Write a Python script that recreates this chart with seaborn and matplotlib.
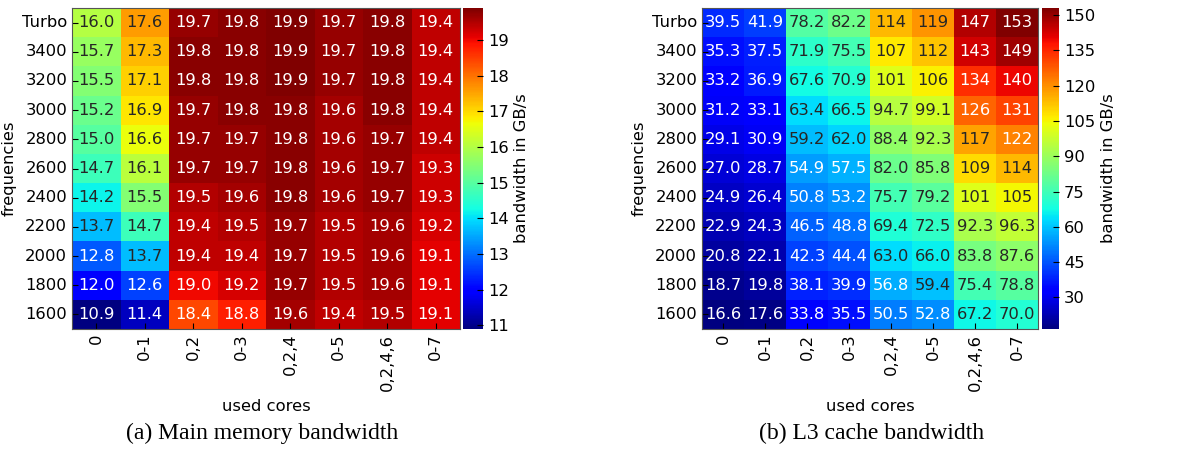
import numpy as np
import pandas as pd
import matplotlib
matplotlib.use("Agg")
import matplotlib.pyplot as plt
import seaborn as sns

# Data
freqs = ["Turbo", "3400", "3200", "3000", "2800", "2600", "2400", "2200", "2000", "1800", "1600"]
cores = ["0", "0-1", "0,2", "0-3", "0,2,4", "0-5", "0,2,4,6", "0-7"]

mem_bw = [
    [16.0, 17.6, 19.7, 19.8, 19.9, 19.7, 19.8, 19.4],
    [15.7, 17.3, 19.8, 19.8, 19.9, 19.7, 19.8, 19.4],
    [15.5, 17.1, 19.8, 19.8, 19.9, 19.7, 19.8, 19.4],
    [15.2, 16.9, 19.7, 19.8, 19.8, 19.6, 19.8, 19.4],
    [15.0, 16.6, 19.7, 19.7, 19.8, 19.6, 19.7, 19.4],
    [14.7, 16.1, 19.7, 19.7, 19.8, 19.6, 19.7, 19.3],
    [14.2, 15.5, 19.5, 19.6, 19.8, 19.6, 19.7, 19.3],
    [13.7, 14.7, 19.4, 19.5, 19.7, 19.5, 19.6, 19.2],
    [12.8, 13.7, 19.4, 19.4, 19.7, 19.5, 19.6, 19.1],
    [12.0, 12.6, 19.0, 19.2, 19.7, 19.5, 19.6, 19.1],
    [10.9, 11.4, 18.4, 18.8, 19.6, 19.4, 19.5, 19.1],
]

l3_bw = [
    [39.5, 41.9, 78.2, 82.2, 114, 119, 147, 153],
    [35.3, 37.5, 71.9, 75.5, 107, 112, 143, 149],
    [33.2, 36.9, 67.6, 70.9, 101, 106, 134, 140],
    [31.2, 33.1, 63.4, 66.5, 94.7, 99.1, 126, 131],
    [29.1, 30.9, 59.2, 62.0, 88.4, 92.3, 117, 122],
    [27.0, 28.7, 54.9, 57.5, 82.0, 85.8, 109, 114],
    [24.9, 26.4, 50.8, 53.2, 75.7, 79.2, 101, 105],
    [22.9, 24.3, 46.5, 48.8, 69.4, 72.5, 92.3, 96.3],
    [20.8, 22.1, 42.3, 44.4, 63.0, 66.0, 83.8, 87.6],
    [18.7, 19.8, 38.1, 39.9, 56.8, 59.4, 75.4, 78.8],
    [16.6, 17.6, 33.8, 35.5, 50.5, 52.8, 67.2, 70.0],
]


def labels(values):
    # 3 significant digits like the original
    return np.array([[f"{v:.0f}" if v >= 100 else f"{v:.1f}" for v in row] for row in values])


plt.rcParams["font.family"] = ["DejaVu Sans"]
W, H = 1203, 450
fig = plt.figure(figsize=(W / 100, H / 100), dpi=100)
fs = 11.8


def box(x0, y0, x1, y1):
    return [x0 / W, 1 - y1 / H, (x1 - x0) / W, (y1 - y0) / H]


panels = [
    (mem_bw, box(72, 8, 460, 329), box(463, 8, 483, 329), list(range(11, 20)), "(a) Main memory bandwidth", 262),
    (l3_bw, box(702, 8, 1038, 329), box(1042, 8, 1059, 329), list(range(30, 151, 15)), "(b) L3 cache bandwidth", 872),
]

for values, axpos, cbpos, cticks, caption, cx in panels:
    ax = fig.add_axes(axpos)
    cax = fig.add_axes(cbpos)
    df = pd.DataFrame(values, index=freqs, columns=cores)
    sns.heatmap(df, ax=ax, cbar_ax=cax, cmap="jet", annot=labels(values), fmt="",
                annot_kws={"fontsize": fs})
    ax.set_xlabel("used cores", fontsize=fs, labelpad=6)
    ax.set_ylabel("frequencies", fontsize=fs)
    ax.tick_params(axis="both", direction="in", length=4, labelsize=fs, colors="black")
    ax.tick_params(axis="y", labelrotation=0)
    ax.tick_params(axis="x", labelrotation=90)
    for s in ax.spines.values():
        s.set_visible(True)
        s.set_color("#555555")
    cb = ax.collections[0].colorbar
    cb.set_ticks(cticks)
    cb.ax.tick_params(labelsize=fs, direction="in", length=4)
    cb.set_label("bandwidth in GB/s", fontsize=fs)
    cb.outline.set_visible(True)
    cb.outline.set_edgecolor("#555555")
    fig.text(cx / W, 1 - 433 / H, caption, ha="center", va="center",
             fontsize=17, family="Liberation Serif")

fig.savefig("out.png", dpi=100)
